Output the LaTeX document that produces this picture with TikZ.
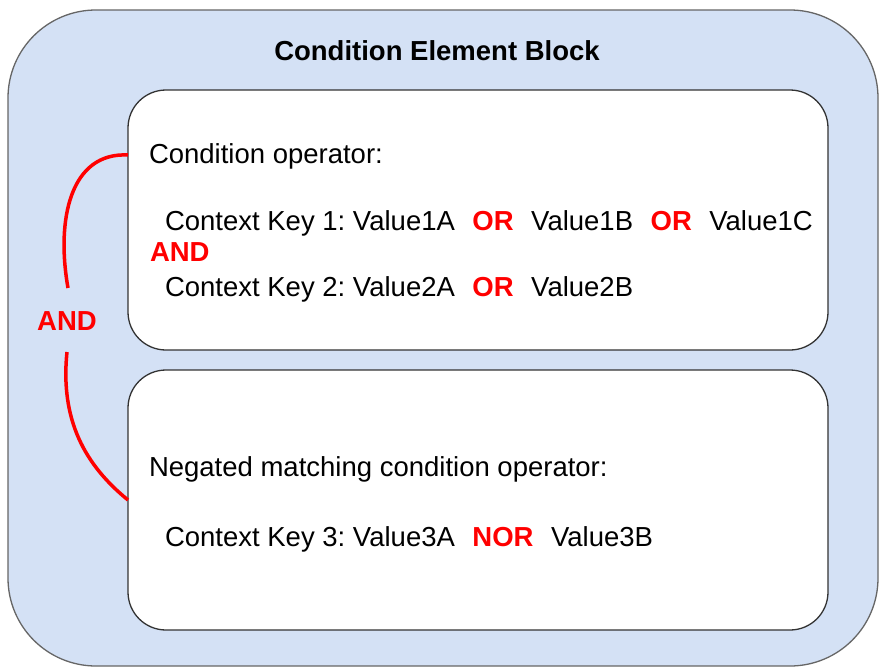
\documentclass[tikz,border=0pt]{standalone}
\usepackage{fontspec}
\setmainfont{Liberation Sans}
\frenchspacing
\definecolor{outerfill}{HTML}{D4E1F5}
\definecolor{outerline}{HTML}{666666}
\definecolor{innerline}{HTML}{333333}
\definecolor{opred}{HTML}{FF0000}
\newcommand{\opw}[1]{\hspace*{17.5pt}{\color{opred}\bfseries #1}\hspace*{17.5pt}}
\begin{document}
\begin{tikzpicture}[x=1pt,y=-1pt,
  txt/.style={anchor=base west,inner sep=0pt,outer sep=0pt,font=\fontsize{27.5}{33}\selectfont\frenchspacing,text=black},
  redtxt/.style={txt,text=opred,font=\fontsize{27.5}{33}\selectfont\bfseries},
  innerbox/.style={draw=innerline,line width=1.3pt,fill=white,rounded corners=38pt},
  link/.style={draw=opred,line width=3.5pt}]
\useasboundingbox (0,0) rectangle (879,667);
\fill[white] (0,0) rectangle (879,667);
\draw[fill=outerfill,draw=outerline,line width=1.3pt,rounded corners=88pt] (8,10) rectangle (878,666);
\node[anchor=base,inner sep=0pt,font=\fontsize{27.5}{33}\selectfont\bfseries] (title) at (437,60) {Condition Element Block};
\draw[innerbox] (128,90) rectangle (828,350);
\draw[innerbox] (128,370) rectangle (828,630);
\node[txt] (op1) at (149,163) {Condition operator:};
\node[txt] (k1) at (165,230) {Context Key 1: Value1A\opw{OR}Value1B\opw{OR}Value1C};
\node[redtxt] (and1) at (150,261) {AND};
\node[txt] (k2) at (165,296) {Context Key 2: Value2A\opw{OR}Value2B};
\node[txt] (op2) at (149,476) {Negated matching condition operator:};
\node[txt] (k3) at (165,546) {Context Key 3: Value3A\opw{NOR}Value3B};
\node[anchor=base,inner sep=0pt,text=opred,font=\fontsize{27.5}{33}\selectfont\bfseries] (and2) at (67,330) {AND};
\coordinate (a1) at (128,155);
\coordinate (a2) at (68,288);
\coordinate (b1) at (67,352);
\coordinate (b2) at (128,500);
\draw[link] (a1) .. controls (70,152) and (56,220) .. (a2);
\draw[link] (b1) .. controls (60,420) and (85,465) .. (b2);
\end{tikzpicture}
\end{document}
